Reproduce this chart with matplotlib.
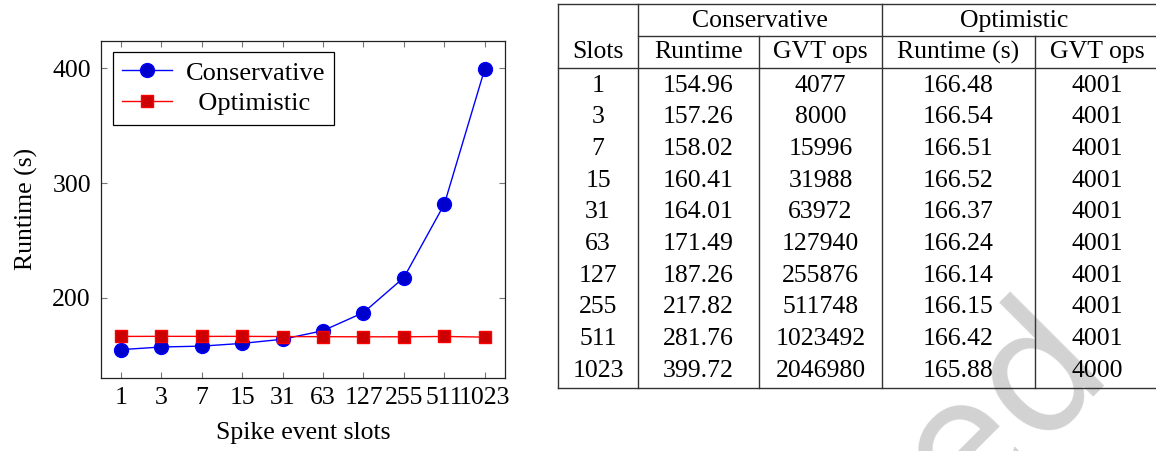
import matplotlib
matplotlib.use("Agg")
import matplotlib.pyplot as plt

plt.rcParams['font.family'] = ['Liberation Serif', 'DejaVu Serif']
plt.rcParams['font.size'] = 18.5

slots = [1, 3, 7, 15, 31, 63, 127, 255, 511, 1023]
cons_runtime = [154.96, 157.26, 158.02, 160.41, 164.01, 171.49, 187.26, 217.82, 281.76, 399.72]
cons_gvt = [4077, 8000, 15996, 31988, 63972, 127940, 255876, 511748, 1023492, 2046980]
opt_runtime = [166.48, 166.54, 166.51, 166.52, 166.37, 166.24, 166.14, 166.15, 166.42, 165.88]
opt_gvt = [4001, 4001, 4001, 4001, 4001, 4001, 4001, 4001, 4001, 4000]

W, H = 1156, 451
fig = plt.figure(figsize=(W / 100, H / 100), dpi=100)

# overlay in pixel coords for the table and the watermark
ov = fig.add_axes([0, 0, 1, 1], zorder=0)
ov.set_xlim(0, W)
ov.set_ylim(H, 0)
ov.axis('off')

ov.text(960, 520, 'ed', rotation=45, rotation_mode='anchor', ha='left', va='baseline',
        fontsize=125, family='DejaVu Sans', color='#d2d2d2', zorder=0, clip_on=True)

# table
lc = '#333333'
lw = 1.0
x_left, x_right = 558, W
top, sub, head, bot = 3.5, 35.7, 68.3, 388.3
ov.plot([x_left, x_right], [top, top], color=lc, lw=lw)
ov.plot([638, x_right], [sub, sub], color=lc, lw=lw)
ov.plot([x_left, x_right], [head, head], color=lc, lw=lw)
ov.plot([x_left, x_right], [bot, bot], color=lc, lw=lw)
for xv in [x_left, 638, 882]:
    ov.plot([xv, xv], [top, bot], color=lc, lw=lw)
for xv in [759, 1035]:
    ov.plot([xv, xv], [sub, bot], color=lc, lw=lw)

centers = [598, 698.5, 820.5, 958.5, 1097]
ov.text(760, 26.7, 'Conservative', ha='center', va='baseline')
ov.text(1014, 26.7, 'Optimistic', ha='center', va='baseline')
for cx, lab in zip(centers, ['Slots', 'Runtime', 'GVT ops', 'Runtime (s)', 'GVT ops']):
    ov.text(cx, 58.3, lab, ha='center', va='baseline')
for i in range(len(slots)):
    yb = 91.7 + 31.67 * i
    row = [str(slots[i]), f'{cons_runtime[i]:.2f}', str(cons_gvt[i]),
           f'{opt_runtime[i]:.2f}', str(opt_gvt[i])]
    for cx, s in zip(centers, row):
        ov.text(cx, yb, s, ha='center', va='baseline')

# chart
ax = fig.add_axes([100.7 / W, 1 - 377.7 / H, (505 - 100.7) / W, (377.7 - 40.7) / H], zorder=2)
xs = list(range(len(slots)))
ax.plot(xs, cons_runtime, color='blue', lw=1.0, marker='o', markersize=10,
        markerfacecolor=(0, 0, 0.8), markeredgecolor='blue', label='Conservative')
ax.plot(xs, opt_runtime, color='red', lw=1.0, marker='s', markersize=8.5,
        markerfacecolor=(0.8, 0, 0), markeredgecolor='red', label='  Optimistic')
ax.set_xlim(-0.5, 9.5)
ax.set_ylim(130.5, 424.2)
ax.set_xticks(xs)
ax.set_xticklabels([str(s) for s in slots])
ax.set_yticks([200, 300, 400])
ax.tick_params(direction='in', top=True, right=True, length=4, width=0.8,
               color='#777777', pad=7)
for sp in ax.spines.values():
    sp.set_color('#222222')
    sp.set_linewidth(0.9)
ax.set_xlabel('Spike event slots', labelpad=9)
ax.set_ylabel('Runtime (s)', labelpad=10)
leg = ax.legend(loc='upper left', bbox_to_anchor=(0.03, 0.967), fancybox=False,
                edgecolor='black', framealpha=1, handlelength=1.9, borderpad=0.35,
                labelspacing=0.28, handletextpad=0.5, borderaxespad=0,
                prop={'size': 19})
leg.get_frame().set_linewidth(0.9)

fig.savefig('out.png', dpi=100)
